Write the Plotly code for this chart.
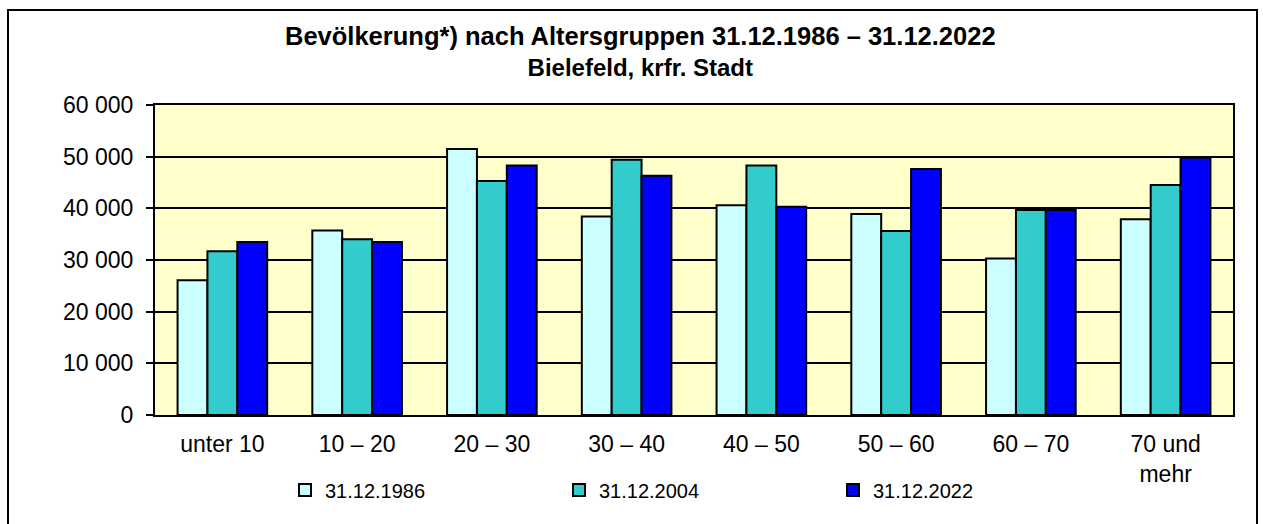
import plotly.graph_objects as go

categories = ["unter 10", "10 – 20", "20 – 30", "30 – 40", "40 – 50", "50 – 60", "60 – 70", "70 und<br>mehr"]
series_names = ["31.12.1986", "31.12.2004", "31.12.2022"]
values_1986 = [26100, 35700, 51500, 38400, 40600, 38900, 30300, 37900]
values_2004 = [31700, 34000, 45300, 49400, 48300, 35600, 39700, 44500]
values_2022 = [33500, 33500, 48300, 46300, 40300, 47600, 39700, 49800]
series_colors = ["#CCFFFF", "#33CCCC", "#0000FF"]
y_tick_values = [0, 10000, 20000, 30000, 40000, 50000, 60000]
y_tick_labels = ["0", "10 000", "20 000", "30 000", "40 000", "50 000", "60 000"]
title_lines = ["Bevölkerung*) nach Altersgruppen 31.12.1986 – 31.12.2022", "Bielefeld, krfr. Stadt"]

FONT = "Arial, Liberation Sans, sans-serif"
W, H = 1263, 524
L, R, T, B = 155, 30, 105, 109
pw, ph = W - L - R, H - T - B

fig = go.Figure()
for name, vals, col in zip(series_names, [values_1986, values_2004, values_2022], series_colors):
    fig.add_trace(go.Bar(
        x=categories, y=vals, name=name,
        marker=dict(color=col, line=dict(color="black", width=2)),
    ))

def px_x(p):
    return (p - L) / pw

def px_y(p):
    return (H - B - p) / ph

fig.update_layout(
    width=W, height=H,
    margin=dict(l=L, r=R, t=T, b=B),
    paper_bgcolor="white",
    plot_bgcolor="#FFFFCC",
    font=dict(family=FONT, color="black", size=23),
    barmode="group",
    bargap=0.335,
    bargroupgap=0,
    showlegend=True,
    legend=dict(
        orientation="h",
        x=px_x(285), xanchor="left",
        y=px_y(490), yanchor="middle",
        font=dict(family=FONT, size=20, color="black"),
        entrywidth=229, entrywidthmode="pixels",
        bgcolor="rgba(0,0,0,0)",
        traceorder="normal",
    ),
    xaxis=dict(
        showgrid=False, zeroline=False,
        showline=True, linecolor="black", linewidth=2, mirror=True,
        ticks="", ticklabelstandoff=7,
        tickfont=dict(family=FONT, size=23, color="black"),
    ),
    yaxis=dict(
        range=[0, 60000],
        tickvals=y_tick_values, ticktext=y_tick_labels,
        showgrid=True, gridcolor="black", gridwidth=2,
        zeroline=False,
        showline=True, linecolor="black", linewidth=2, mirror=True,
        ticks="outside", ticklen=7, tickwidth=2, tickcolor="black",
        ticklabelstandoff=8,
        tickfont=dict(family=FONT, size=23, color="black"),
    ),
    annotations=[dict(
        text="<b><span style='font-size:25.5px'>" + title_lines[0] + "</span></b><br><b>" + title_lines[1] + "</b>",
        xref="paper", yref="paper",
        x=px_x(640), y=px_y(51), xanchor="center", yanchor="middle",
        showarrow=False, align="center",
        font=dict(family=FONT, size=24, color="black"),
    )],
    shapes=[dict(
        type="rect", xref="paper", yref="paper",
        x0=px_x(8), x1=px_x(1257), y0=px_y(540), y1=px_y(10),
        line=dict(color="black", width=2), fillcolor="rgba(0,0,0,0)",
        layer="above",
    )],
)

fig.write_html(
    "out.html",
    config={"displayModeBar": False},
    post_script="document.body.style.margin='0';document.body.style.overflow='hidden';",
)
